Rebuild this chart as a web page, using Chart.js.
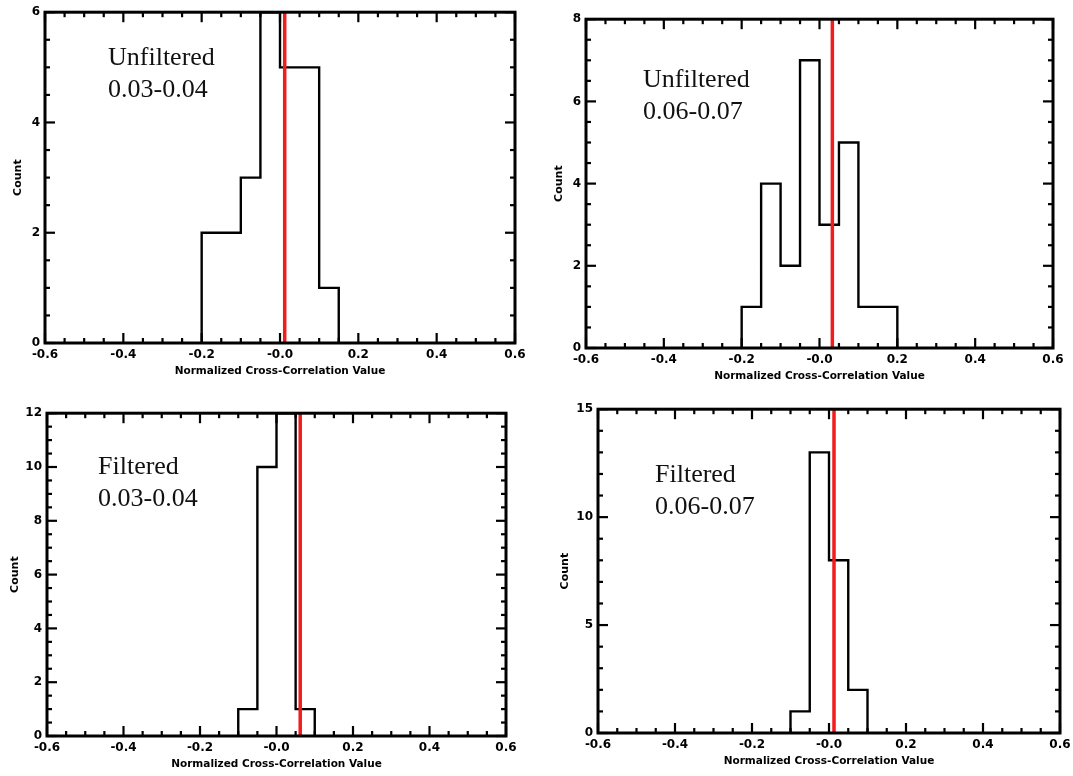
<!DOCTYPE html>
<html>
<head>
<meta charset="utf-8">
<script src="https://cdn.jsdelivr.net/npm/chart.js@4.4.0/dist/chart.umd.min.js"></script>
<style>
  body { margin: 0; background: #fff; }
  #page { position: relative; width: 1073px; height: 776px; overflow: hidden; background: #fff; }
  #page canvas { position: absolute; }
  .note {
    position: absolute;
    font-family: "Liberation Serif", "Times New Roman", serif;
    font-size: 26px;
    line-height: 32px;
    color: #111;
    white-space: pre;
  }
</style>
</head>
<body>
<div id="page"></div>
<script>
// histogram bins (bin width and first edge), counts per bin
const binWidth = 0.05;
const xTickValues = [-0.6, -0.4, -0.2, 0, 0.2, 0.4, 0.6];

const unfilteredLowStart = -0.2;
const unfilteredLowCounts = [2, 2, 3, 6, 5, 5, 1];

const unfilteredHighStart = -0.2;
const unfilteredHighCounts = [1, 4, 2, 7, 3, 5, 1, 1];

const filteredLowStart = -0.1;
const filteredLowCounts = [1, 10, 12, 1];

const filteredHighStart = -0.1;
const filteredHighCounts = [1, 13, 8, 2];

// red reference line for each panel
const markerValues = [0.012, 0.033, 0.062, 0.013];

// count axis: max, labelled step, minor step
const countMax = [6, 8, 12, 15];
const countStep = [2, 2, 2, 5];
const countMinor = [0.5, 0.5, 0.5, 1];

const panelLabels = [
  ["Unfiltered", "0.03-0.04"],
  ["Unfiltered", "0.06-0.07"],
  ["Filtered", "0.03-0.04"],
  ["Filtered", "0.06-0.07"]
];

const panelStarts = [unfilteredLowStart, unfilteredHighStart, filteredLowStart, filteredHighStart];
const panelCounts = [unfilteredLowCounts, unfilteredHighCounts, filteredLowCounts, filteredHighCounts];

// plot frames on the page (left, top, right, bottom), y-title offset, note position
const frames = [
  { l: 45,  t: 10,  r: 515,  b: 343, yTitlePad: 11.5, noteX: 108, noteY: 41 },
  { l: 586, t: 17,  r: 1053, b: 348, yTitlePad: 12,   noteX: 643, noteY: 63 },
  { l: 47,  t: 411, r: 506,  b: 736, yTitlePad: 6.5,  noteX: 98,  noteY: 450 },
  { l: 598, t: 407, r: 1060, b: 733, yTitlePad: 5.5,  noteX: 655, noteY: 458 }
];

const AXIS_W = 45, TOP_PAD = 10, RIGHT_PAD = 20, AXIS_H = 40;

Chart.defaults.font.family = "'DejaVu Sans', sans-serif";
Chart.defaults.font.weight = "bold";
Chart.defaults.color = "#000";

// outline of a step histogram from bin edges
function outline(start, counts) {
  const pts = [{ x: start, y: 0 }];
  counts.forEach((c, i) => {
    const x0 = start + i * binWidth;
    pts.push({ x: x0, y: c }, { x: x0 + binWidth, y: c });
  });
  pts.push({ x: start + counts.length * binWidth, y: 0 });
  return pts;
}

// IDL style box: thick frame, inward major/minor ticks on all four sides
const idlAxes = {
  id: "idlAxes",
  afterDatasetsDraw(chart, args, opts) {
    const { ctx, chartArea: a, scales: { x, y } } = chart;
    ctx.save();
    ctx.strokeStyle = "#000";
    ctx.lineWidth = 2.2;
    ctx.lineCap = "butt";
    const seg = (x0, y0, x1, y1) => {
      ctx.beginPath(); ctx.moveTo(x0, y0); ctx.lineTo(x1, y1); ctx.stroke();
    };
    const nx = Math.round((x.max - x.min) / opts.xMinor);
    const kx = Math.round(opts.xMajor / opts.xMinor);
    for (let i = 0; i <= nx; i++) {
      const px = x.getPixelForValue(x.min + i * opts.xMinor);
      const len = i % kx === 0 ? 10 : 5;
      seg(px, a.bottom, px, a.bottom - len);
      seg(px, a.top, px, a.top + len);
    }
    const ny = Math.round((y.max - y.min) / opts.yMinor);
    const ky = Math.round(opts.yMajor / opts.yMinor);
    for (let i = 0; i <= ny; i++) {
      const py = y.getPixelForValue(y.min + i * opts.yMinor);
      const len = i % ky === 0 ? 10 : 5;
      seg(a.left, py, a.left + len, py);
      seg(a.right, py, a.right - len, py);
    }
    ctx.lineWidth = 3;
    ctx.strokeRect(a.left, a.top, a.right - a.left, a.bottom - a.top);
    ctx.restore();
  }
};

const page = document.getElementById("page");

frames.forEach((f, i) => {
  const canvas = document.createElement("canvas");
  canvas.width = f.r - f.l + AXIS_W + RIGHT_PAD;
  canvas.height = f.b - f.t + TOP_PAD + AXIS_H;
  canvas.style.left = (f.l - AXIS_W) + "px";
  canvas.style.top = (f.t - TOP_PAD) + "px";
  page.appendChild(canvas);

  const note = document.createElement("div");
  note.className = "note";
  note.style.left = f.noteX + "px";
  note.style.top = f.noteY + "px";
  note.textContent = panelLabels[i].join("\n");
  page.appendChild(note);

  new Chart(canvas, {
    type: "line",
    data: {
      datasets: [
        {
          label: "reference",
          data: [{ x: markerValues[i], y: 0 }, { x: markerValues[i], y: countMax[i] }],
          borderColor: "#f21c1c",
          borderWidth: 3.5,
          pointRadius: 0,
          order: 0
        },
        {
          label: "histogram",
          data: outline(panelStarts[i], panelCounts[i]),
          borderColor: "#000",
          borderWidth: 2.4,
          pointRadius: 0,
          tension: 0,
          fill: false,
          order: 1
        }
      ]
    },
    options: {
      responsive: false,
      animation: false,
      events: [],
      layout: { padding: { top: TOP_PAD, right: RIGHT_PAD, left: 0, bottom: 0 } },
      plugins: {
        legend: { display: false },
        tooltip: { enabled: false },
        idlAxes: { xMinor: 0.05, xMajor: 0.2, yMinor: countMinor[i], yMajor: countStep[i] }
      },
      scales: {
        x: {
          type: "linear",
          min: -0.6,
          max: 0.6,
          afterFit: (s) => { s.height = AXIS_H; },
          afterBuildTicks: (s) => { s.ticks = xTickValues.map(v => ({ value: v })); },
          grid: { display: false, drawTicks: false },
          border: { display: false },
          ticks: {
            padding: 5,
            maxRotation: 0,
            font: { size: 12, weight: "bold" },
            callback: (v) => Math.abs(v) < 1e-9 ? "-0.0" : Number(v).toFixed(1)
          },
          title: {
            display: true,
            text: "Normalized Cross-Correlation Value",
            font: { size: 10.5, weight: "bold" },
            padding: { top: 0, bottom: 5 }
          }
        },
        y: {
          min: 0,
          max: countMax[i],
          afterFit: (s) => { s.width = AXIS_W; },
          grid: { display: false, drawTicks: false },
          border: { display: false },
          ticks: {
            stepSize: countStep[i],
            padding: 5,
            font: { size: 12, weight: "bold" }
          },
          title: {
            display: true,
            text: "Count",
            font: { size: 11, weight: "bold" },
            padding: { top: f.yTitlePad, bottom: 0 }
          }
        }
      }
    },
    plugins: [idlAxes]
  });
});
</script>
</body>
</html>
